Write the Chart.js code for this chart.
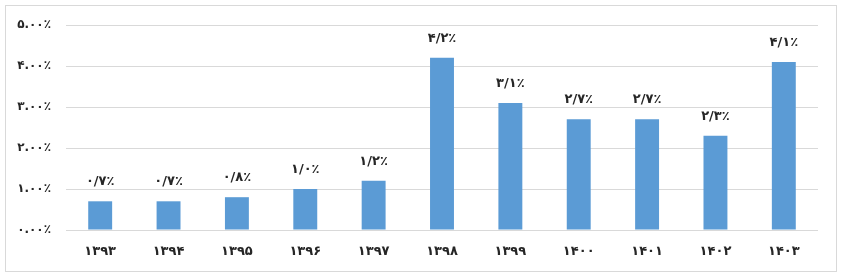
<!DOCTYPE html>
<html><head><meta charset="utf-8">
<script src="https://cdn.jsdelivr.net/npm/chart.js@4"></script>
<style>
html,body{margin:0;padding:0;background:#fff;}
#wrap{position:relative;width:843px;height:278px;}
#frame{position:absolute;left:5px;top:5px;width:832px;height:267px;border:1px solid #d9d9d9;box-sizing:border-box;pointer-events:none;}
canvas{position:absolute;left:0;top:0;}
</style>
</head><body>
<div id="wrap"><canvas id="c" width="843" height="278"></canvas><div id="frame"></div></div>
<script>
const categories = ['۱۳۹۳','۱۳۹۴','۱۳۹۵','۱۳۹۶','۱۳۹۷','۱۳۹۸','۱۳۹۹','۱۴۰۰','۱۴۰۱','۱۴۰۲','۱۴۰۳'];
const values = [0.7, 0.7, 0.8, 1.0, 1.2, 4.2, 3.1, 2.7, 2.7, 2.3, 4.1];
const valueLabels = ['۰/۷٪','۰/۷٪','۰/۸٪','۱/۰٪','۱/۲٪','۴/۲٪','۳/۱٪','۲/۷٪','۲/۷٪','۲/۳٪','۴/۱٪'];
const yTickLabels = {0:'۰.۰۰٪',1:'۱.۰۰٪',2:'۲.۰۰٪',3:'۳.۰۰٪',4:'۴.۰۰٪',5:'۵.۰۰٪'};

const FONT = "'DejaVu Sans', sans-serif";
const TEXT = '#262626';

const labelPlugin = {
  id: 'valueLabels',
  afterDatasetsDraw(chart) {
    const ctx = chart.ctx;
    const meta = chart.getDatasetMeta(0);
    ctx.save();
    ctx.font = "bold 13px " + FONT;
    ctx.fillStyle = TEXT;
    ctx.textAlign = 'center';
    ctx.textBaseline = 'alphabetic';
    meta.data.forEach((bar, i) => {
      ctx.fillText(valueLabels[i], bar.x, bar.y - 16);
    });
    ctx.restore();
  }
};

new Chart(document.getElementById('c'), {
  type: 'bar',
  data: {
    labels: categories,
    datasets: [{
      data: values,
      backgroundColor: '#5B9BD5',
      borderWidth: 0,
      categoryPercentage: 1,
      barPercentage: 0.35
    }]
  },
  options: {
    responsive: false,
    animation: false,
    devicePixelRatio: 1,
    layout: { padding: { left: 0, right: 25, top: 25, bottom: 0 } },
    plugins: { legend: { display: false }, tooltip: { enabled: false } },
    scales: {
      x: {
        grid: { display: false },
        border: { display: false },
        ticks: { color: TEXT, font: { family: FONT, size: 13, weight: 'bold' }, padding: 6 },
        afterFit(s) { s.height = 48; }
      },
      y: {
        min: 0, max: 5,
        ticks: {
          stepSize: 1,
          color: TEXT,
          font: { family: FONT, size: 12, weight: 'bold' },
          padding: 15,
          callback: (v) => yTickLabels[v]
        },
        grid: { color: '#d9d9d9', lineWidth: 1, drawTicks: false },
        border: { display: false },
        afterFit(s) { s.width = 66; }
      }
    }
  },
  plugins: [labelPlugin]
});
</script>
</body></html>
